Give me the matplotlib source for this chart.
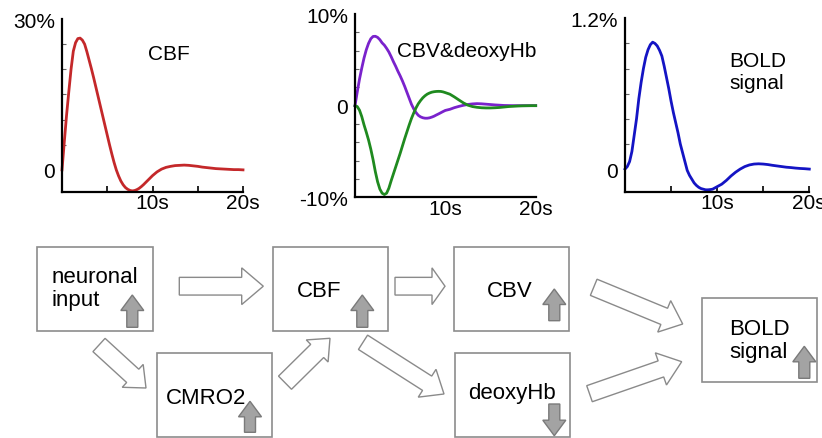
import matplotlib
matplotlib.use('Agg')
import matplotlib.pyplot as plt
from matplotlib.patches import Rectangle, FancyArrow

plt.rcParams['font.family'] = ['Liberation Sans', 'DejaVu Sans']

# ---------------- data ----------------
time_s = [0, 0.25, 0.5, 0.75, 1, 1.25, 1.5, 1.75, 2, 2.25, 2.5, 2.75, 3, 3.25, 3.5, 3.75,
          4, 4.25, 4.5, 4.75, 5, 5.25, 5.5, 5.75, 6, 6.25, 6.5, 6.75, 7, 7.25, 7.5, 7.75,
          8, 8.25, 8.5, 8.75, 9, 9.25, 9.5, 9.75, 10,
          10.5, 11, 11.5, 12, 12.5, 13, 13.5, 14, 14.5, 15, 15.5, 16, 16.5, 17, 17.5,
          18, 18.5, 19, 19.5, 20]

cbf_pct = [0, 5.5, 10.8, 15.5, 20.0, 23.6, 25.3, 26.1, 26.2, 25.8, 25.0, 23.5, 21.8, 20.1,
           18.3, 16.4, 14.5, 12.6, 10.7, 8.8, 6.9, 5.0, 3.2, 1.5, 0.0, -1.2, -2.2, -2.95,
           -3.5, -3.85, -4.08, -4.18, -4.12, -3.95, -3.7, -3.35, -2.95, -2.5, -2.05, -1.6,
           -1.15, -0.4, 0.15, 0.5, 0.7, 0.85, 0.9, 0.95, 0.9, 0.8, 0.7, 0.55, 0.45, 0.35,
           0.25, 0.2, 0.15, 0.1, 0.05, 0.05, 0.0]

cbv_pct = [0, 1.5, 2.9, 4.1, 5.2, 6.1, 6.8, 7.3, 7.55, 7.57, 7.45, 7.2, 6.85, 6.6, 6.25,
           5.85, 5.35, 4.8, 4.3, 3.75, 3.25, 2.7, 2.1, 1.45, 0.8, 0.15, -0.35, -0.75, -1.05,
           -1.22, -1.32, -1.37, -1.37, -1.33, -1.25, -1.15, -1.02, -0.9, -0.77, -0.64, -0.52,
           -0.4, -0.22, -0.08, 0.04, 0.13, 0.19, 0.22, 0.2, 0.16, 0.12, 0.08, 0.05, 0.02,
           0.01, 0, 0, 0, 0, 0, 0]

deoxyhb_pct = [0, -0.1, -0.5, -1.2, -2.1, -2.9, -3.75, -4.75, -5.9, -7.2, -8.3, -9.1, -9.55,
               -9.7, -9.55, -9.0, -8.2, -7.45, -6.7, -5.95, -5.2, -4.4, -3.6, -2.85, -2.1,
               -1.4, -0.8, -0.25, 0.2, 0.55, 0.85, 1.08, 1.26, 1.38, 1.47, 1.52, 1.55, 1.56,
               1.55, 1.5, 1.42, 1.25, 0.95, 0.62, 0.3, 0.05, -0.1, -0.18, -0.23, -0.25,
               -0.25, -0.23, -0.2, -0.15, -0.1, -0.07, -0.04, -0.02, -0.01, 0, 0]

bold_pct = [0, 0.02, 0.06, 0.14, 0.27, 0.40, 0.56, 0.69, 0.80, 0.89, 0.95, 0.99, 1.01, 1.0,
            0.98, 0.945, 0.9, 0.82, 0.73, 0.64, 0.54, 0.45, 0.37, 0.29, 0.2, 0.13, 0.06,
            -0.01, -0.05, -0.08, -0.11, -0.13, -0.145, -0.155, -0.16, -0.165, -0.165,
            -0.163, -0.16, -0.15, -0.14, -0.12, -0.09, -0.055, -0.025, 0.0, 0.02, 0.033,
            0.04, 0.042, 0.04, 0.036, 0.03, 0.025, 0.02, 0.015, 0.012, 0.008, 0.005, 0.003,
            0.0]

x_ticks = [10, 20]
x_tick_labels = ['10s', '20s']
cbf_yticks, cbf_ylabels = [0, 30], ['0', '30%']
vol_yticks, vol_ylabels = [-10, 0, 10], ['-10%', '0', '10%']
bold_yticks, bold_ylabels = [0, 1.2], ['0', '1.2%']

# ---------------- figure ----------------
W, H = 822, 439
fig = plt.figure(figsize=(8.22, 4.39), dpi=100)


def add_ax(x0, x1, ytop, ybot):
    return fig.add_axes([x0 / W, 1 - ybot / H, (x1 - x0) / W, (ybot - ytop) / H])


def style(ax, ylim, yticks, ylabels, yminor, xminor=True):
    ax.set_xlim(0, 20)
    ax.set_ylim(*ylim)
    ax.set_facecolor('none')
    for s in ['top', 'right']:
        ax.spines[s].set_visible(False)
    for s in ['left', 'bottom']:
        ax.spines[s].set_linewidth(1.6)
        ax.spines[s].set_color('black')
    ax.set_yticks(yticks)
    ax.set_yticklabels(ylabels)
    ax.set_yticks(yminor, minor=True)
    ax.set_xticks(x_ticks)
    ax.set_xticklabels(x_tick_labels)
    if xminor:
        ax.set_xticks([5, 15], minor=True)
        ax.tick_params(axis='x', which='both', direction='in', length=4, width=1.2)
    else:
        ax.tick_params(axis='x', which='both', length=0)
    ax.tick_params(axis='x', which='major', pad=1, labelsize=15)
    ax.tick_params(axis='y', which='major', length=0, pad=5, labelsize=15)
    ax.tick_params(axis='y', which='minor', direction='in', length=3, width=0.8,
                   color='#666666')


ax1 = add_ax(62, 243, 20, 193)
ax1.plot(time_s, cbf_pct, color='#c4282a', lw=2.0, clip_on=False,
         solid_joinstyle='round')
style(ax1, (-4.4, 30), cbf_yticks, cbf_ylabels, [5, 10, 15, 20, 25])

ax2 = add_ax(355, 535.7, 15, 198.3)
ax2.plot(time_s, cbv_pct, color='#7a22cc', lw=2.0, clip_on=False,
         solid_joinstyle='round')
ax2.plot(time_s, deoxyhb_pct, color='#1f8a1f', lw=2.0, clip_on=False,
         solid_joinstyle='round')
style(ax2, (-10, 10), vol_yticks, vol_ylabels, [-8, -6, -4, -2, 2, 4, 6, 8], xminor=False)

ax3 = add_ax(625, 809.3, 19.3, 192.7)
ax3.plot(time_s, bold_pct, color='#1414c4', lw=2.0, clip_on=False,
         solid_joinstyle='round')
style(ax3, (-0.18, 1.2), bold_yticks, bold_ylabels, [0.2, 0.4, 0.6, 0.8, 1.0])

# ---------------- overlay (titles + diagram) in pixel coordinates ----------------
ov = fig.add_axes([0, 0, 1, 1])
ov.set_xlim(0, W)
ov.set_ylim(H, 0)
ov.axis('off')
ov.set_facecolor('none')

ov.text(169, 55, 'CBF', fontsize=15, ha='center', va='center')
ov.text(466.7, 51.7, 'CBV&deoxyHb', fontsize=15, ha='center', va='center')
ov.text(729.3, 72.5, 'BOLD\nsignal', fontsize=15, ha='left', va='center', linespacing=1.15)

box_ec = '#8c8c8c'
boxes = [
    (36.7, 248.3, 152.7, 332.3),   # neuronal input
    (272.7, 248.3, 388.3, 332.3),  # CBF
    (156.7, 354.0, 271.7, 438.3),  # CMRO2
    (454.0, 248.3, 569.3, 332.3),  # CBV
    (455.0, 354.0, 570.0, 438.3),  # deoxyHb
    (701.7, 299.3, 817.3, 383.3),  # BOLD
]
for x0, y0, x1, y1 in boxes:
    ov.add_patch(Rectangle((x0, y0), x1 - x0, y1 - y0, fill=False, ec=box_ec, lw=1.2))

ov.text(51.7, 289.2, 'neuronal\ninput', fontsize=16, ha='left', va='center', linespacing=1.1)
ov.text(319.3, 291.7, 'CBF', fontsize=16, ha='center', va='center')
ov.text(165.7, 398.3, 'CMRO2', fontsize=16, ha='left', va='center')
ov.text(510.0, 291.7, 'CBV', fontsize=16, ha='center', va='center')
ov.text(468.3, 393.3, 'deoxyHb', fontsize=16, ha='left', va='center')
ov.text(729.3, 340.8, 'BOLD\nsignal', fontsize=16, ha='left', va='center', linespacing=1.1)

# hollow flow arrows: (tail x, tail y, tip x, tip y, width, head width, head length)
flow = [
    (179.3, 287.2, 263.3, 287.2, 17.7, 36.7, 21.6),
    (395.0, 287.2, 445.0, 287.2, 17.7, 36.7, 13.0),
    (99.0, 346.0, 146.0, 389.0, 18.0, 31.0, 18.0),
    (285.0, 383.7, 330.0, 339.3, 18.5, 31.0, 18.0),
    (363.0, 343.3, 444.0, 395.0, 17.0, 33.0, 20.0),
    (593.7, 288.3, 682.7, 325.0, 17.5, 34.0, 20.0),
    (589.5, 394.7, 681.7, 362.7, 17.0, 34.0, 22.0),
]
for xt, yt, xh, yh, w, hw, hl in flow:
    ov.add_patch(FancyArrow(xt, yt, xh - xt, yh - yt, width=w, head_width=hw,
                            head_length=hl, length_includes_head=True,
                            fc='white', ec='#8a8a8a', lw=1.0))

# gray direction arrows: (centre x, tail y, tip y)
updown = [
    (132.3, 328.3, 296.0),
    (362.3, 328.3, 296.0),
    (250.0, 433.3, 402.3),
    (554.3, 321.7, 290.0),
    (554.3, 405.0, 436.7),
    (804.3, 379.3, 347.3),
]
for cx, yt, yh in updown:
    ov.add_patch(FancyArrow(cx, yt, 0, yh - yt, width=11, head_width=23,
                            head_length=15.5, length_includes_head=True,
                            fc='#a3a3a3', ec='#7a7a7a', lw=1.0))

fig.savefig('out.png', dpi=100)
